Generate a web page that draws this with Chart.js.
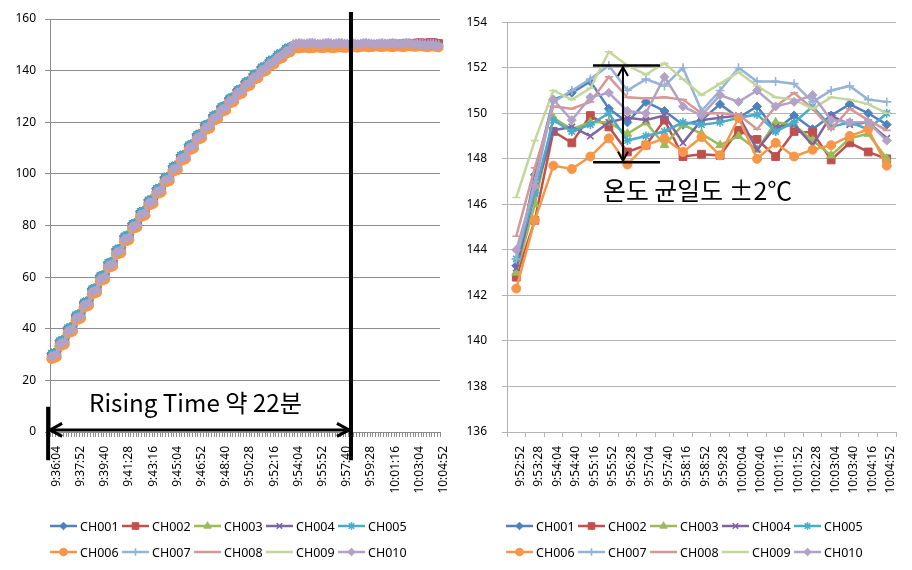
<!DOCTYPE html>
<html>
<head>
<meta charset="utf-8">
<script src="https://cdn.jsdelivr.net/npm/chart.js@4.4.1/dist/chart.umd.min.js"></script>
<style>
html, body { margin: 0; padding: 0; background: #fff; }
#wrap { position: relative; width: 912px; height: 570px; }
.box { position: absolute; top: 0; width: 456px; height: 570px; }
</style>
</head>
<body>
<div id="wrap">
  <div class="box" style="left:0"><canvas id="riseChart" width="456" height="570"></canvas></div>
  <div class="box" style="left:456px"><canvas id="zoomChart" width="456" height="570"></canvas></div>
</div>
<script>
const channels = ['CH001', 'CH002', 'CH003', 'CH004', 'CH005', 'CH006', 'CH007', 'CH008', 'CH009', 'CH010'];

// left chart: one reading every 12 s from 9:36:04 to 10:04:52
const riseStartSec = 9 * 3600 + 36 * 60 + 4;
const riseStepSec = 12;
const riseCount = 145;

// heating part (first 90 readings)
const riseHigh = [30.5, 30.8, 31.2, 35.4, 35.7, 36.1, 40.4, 40.7, 41.1, 45.4, 45.7, 46.1, 50.4, 50.7, 51.1, 55.5, 55.8, 56.2, 60.6, 60.9, 61.3, 65.7, 66.0, 66.4, 70.8, 71.1, 71.5, 75.9, 76.2, 76.6,
  80.8, 81.1, 81.5, 85.4, 85.7, 86.1, 89.9, 90.2, 90.6, 94.3, 94.6, 95.0, 98.7, 99.0, 99.4, 103.0, 103.3, 103.7, 107.2, 107.5, 107.9, 111.3, 111.6, 112.0, 115.3, 115.6, 116.0, 119.1, 119.4, 119.8,
  122.7, 123.0, 123.4, 126.1, 126.4, 126.8, 129.4, 129.7, 130.1, 132.6, 132.9, 133.3, 135.7, 136.0, 136.4, 138.6, 138.9, 139.3, 141.4, 141.7, 142.1, 144.0, 144.3, 144.7, 146.4, 146.7, 147.1, 148.7, 149.0, 149.4];
const riseMid = [29.3, 29.6, 30.0, 34.2, 34.5, 34.9, 39.2, 39.5, 39.9, 44.2, 44.5, 44.9, 49.2, 49.5, 49.9, 54.3, 54.6, 55.0, 59.4, 59.7, 60.1, 64.5, 64.8, 65.2, 69.6, 69.9, 70.3, 74.7, 75.0, 75.4,
  79.6, 79.9, 80.3, 84.2, 84.5, 84.9, 88.7, 89.0, 89.4, 93.1, 93.4, 93.8, 97.5, 97.8, 98.2, 101.8, 102.1, 102.5, 106.0, 106.3, 106.7, 110.1, 110.4, 110.8, 114.1, 114.4, 114.8, 117.9, 118.2, 118.6,
  121.5, 121.8, 122.2, 124.9, 125.2, 125.6, 128.2, 128.5, 128.9, 131.4, 131.7, 132.1, 134.5, 134.8, 135.2, 137.4, 137.7, 138.1, 140.2, 140.5, 140.9, 142.8, 143.1, 143.5, 145.2, 145.5, 145.9, 147.5, 147.8, 148.2];
const riseLow = [28.3, 28.6, 29.0, 33.2, 33.5, 33.9, 38.2, 38.5, 38.9, 43.2, 43.5, 43.9, 48.2, 48.5, 48.9, 53.3, 53.6, 54.0, 58.4, 58.7, 59.1, 63.5, 63.8, 64.2, 68.6, 68.9, 69.3, 73.7, 74.0, 74.4,
  78.6, 78.9, 79.3, 83.2, 83.5, 83.9, 87.7, 88.0, 88.4, 92.1, 92.4, 92.8, 96.5, 96.8, 97.2, 100.8, 101.1, 101.5, 105.0, 105.3, 105.7, 109.1, 109.4, 109.8, 113.1, 113.4, 113.8, 116.9, 117.2, 117.6,
  120.5, 120.8, 121.2, 123.9, 124.2, 124.6, 127.2, 127.5, 127.9, 130.4, 130.7, 131.1, 133.5, 133.8, 134.2, 136.4, 136.7, 137.1, 139.2, 139.5, 139.9, 141.8, 142.1, 142.5, 144.2, 144.5, 144.9, 146.5, 146.8, 147.2];

// holding part (last 55 readings), one per channel
const hold01 = [149.9, 150.1, 150.3, 150.2, 150.0, 149.8, 149.9, 150.2, 150.4, 150.3, 150.1, 149.9, 149.8, 150.0, 150.2, 150.3, 150.1, 149.9, 149.7, 149.8, 150.0, 150.2, 150.1, 150.0, 149.8, 149.9, 150.1, 150.3, 150.2, 150.0, 149.8, 149.7, 149.9, 150.1, 150.2, 150.0, 149.9, 149.8, 150.0, 150.2, 150.3, 150.1, 149.9, 149.8, 149.9, 150.1, 150.2, 150.0, 149.8, 149.7, 149.9, 150.0, 149.9, 149.7, 149.6];
const hold02 = [149.4, 149.6, 149.5, 149.3, 149.4, 149.6, 149.7, 149.5, 149.4, 149.3, 149.5, 149.7, 149.8, 149.6, 149.5, 149.4, 149.6, 149.8, 149.9, 149.7, 149.6, 149.5, 149.7, 149.9, 150.0, 149.8, 149.7, 149.9, 150.1, 150.0, 149.9, 150.1, 150.2, 150.0, 149.9, 150.1, 150.3, 150.4, 150.2, 150.1, 150.3, 150.5, 150.6, 150.4, 150.3, 150.5, 150.7, 150.8, 150.6, 150.5, 150.7, 150.9, 150.8, 150.6, 150.5];
const hold03 = [149.2, 149.4, 149.5, 149.3, 149.1, 149.2, 149.4, 149.3, 149.1, 149.0, 149.2, 149.4, 149.5, 149.3, 149.2, 149.0, 149.1, 149.3, 149.4, 149.2, 149.1, 149.3, 149.5, 149.4, 149.2, 149.0, 149.2, 149.4, 149.3, 149.1, 149.2, 149.4, 149.5, 149.3, 149.2, 149.1, 149.3, 149.4, 149.2, 149.0, 149.1, 149.3, 149.5, 149.4, 149.2, 149.3, 149.4, 149.2, 149.1, 149.2, 149.4, 149.3, 149.1, 149.0, 149.1];
const hold04 = [149.5, 149.7, 149.8, 149.6, 149.4, 149.5, 149.7, 149.9, 149.8, 149.6, 149.4, 149.5, 149.7, 149.8, 149.6, 149.5, 149.7, 149.9, 149.7, 149.5, 149.4, 149.6, 149.8, 149.7, 149.5, 149.6, 149.8, 149.9, 149.7, 149.6, 149.4, 149.5, 149.7, 149.8, 149.6, 149.5, 149.7, 149.8, 149.6, 149.4, 149.5, 149.7, 149.9, 149.8, 149.6, 149.5, 149.6, 149.8, 149.7, 149.5, 149.4, 149.6, 149.7, 149.5, 149.3];
const hold05 = [149.7, 149.9, 150.0, 149.8, 149.6, 149.7, 149.9, 150.1, 150.0, 149.8, 149.6, 149.7, 149.9, 150.0, 149.8, 149.7, 149.9, 150.1, 149.9, 149.7, 149.6, 149.8, 150.0, 149.9, 149.7, 149.8, 150.0, 150.1, 149.9, 149.8, 149.6, 149.7, 149.9, 150.0, 149.8, 149.7, 149.9, 150.0, 149.8, 149.6, 149.7, 149.9, 150.1, 150.0, 149.8, 149.7, 149.8, 150.0, 149.9, 149.7, 149.8, 150.0, 150.1, 149.9, 149.8];
const hold06 = [148.7, 148.8, 148.6, 148.7, 148.9, 148.8, 148.6, 148.7, 148.9, 149.0, 148.8, 148.7, 148.9, 149.0, 148.8, 148.7, 148.9, 149.1, 149.0, 148.8, 148.9, 149.1, 149.2, 149.0, 148.9, 149.1, 149.3, 149.2, 149.0, 149.1, 149.3, 149.4, 149.2, 149.1, 149.3, 149.4, 149.2, 149.1, 149.3, 149.4, 149.2, 149.1, 149.3, 149.5, 149.4, 149.2, 149.3, 149.5, 149.4, 149.2, 149.1, 149.3, 149.4, 149.2, 149.0];
const hold07 = [150.4, 150.6, 150.8, 150.7, 150.5, 150.6, 150.8, 150.9, 150.7, 150.5, 150.4, 150.6, 150.8, 150.9, 150.7, 150.5, 150.7, 150.9, 150.8, 150.6, 150.5, 150.7, 150.8, 150.6, 150.4, 150.6, 150.8, 150.9, 150.7, 150.6, 150.4, 150.5, 150.7, 150.8, 150.6, 150.5, 150.7, 150.8, 150.6, 150.4, 150.5, 150.7, 150.9, 150.8, 150.6, 150.4, 150.6, 150.7, 150.5, 150.3, 150.4, 150.6, 150.5, 150.3, 150.2];
const hold08 = [150.1, 150.3, 150.4, 150.2, 150.0, 150.1, 150.3, 150.5, 150.4, 150.2, 150.0, 150.1, 150.3, 150.4, 150.2, 150.1, 150.3, 150.5, 150.3, 150.1, 150.0, 150.2, 150.4, 150.3, 150.1, 150.2, 150.4, 150.5, 150.3, 150.2, 150.0, 150.1, 150.3, 150.4, 150.2, 150.1, 150.3, 150.4, 150.2, 150.0, 150.1, 150.3, 150.5, 150.4, 150.2, 150.1, 150.2, 150.4, 150.3, 150.1, 150.0, 150.2, 150.3, 150.1, 149.9];
const hold09 = [150.3, 150.5, 150.7, 150.6, 150.4, 150.5, 150.7, 150.8, 150.6, 150.4, 150.3, 150.5, 150.7, 150.8, 150.6, 150.4, 150.6, 150.8, 150.7, 150.5, 150.4, 150.6, 150.7, 150.5, 150.3, 150.5, 150.7, 150.8, 150.6, 150.5, 150.3, 150.4, 150.6, 150.7, 150.5, 150.4, 150.6, 150.7, 150.5, 150.3, 150.4, 150.6, 150.8, 150.7, 150.5, 150.3, 150.5, 150.6, 150.4, 150.2, 150.3, 150.4, 150.2, 150.0, 149.9];
const hold10 = [150.2, 150.4, 150.6, 150.5, 150.3, 150.4, 150.6, 150.7, 150.5, 150.3, 150.2, 150.4, 150.6, 150.7, 150.5, 150.3, 150.5, 150.7, 150.6, 150.4, 150.3, 150.5, 150.6, 150.4, 150.2, 150.4, 150.6, 150.7, 150.5, 150.4, 150.2, 150.3, 150.5, 150.6, 150.4, 150.3, 150.5, 150.6, 150.4, 150.2, 150.3, 150.5, 150.7, 150.6, 150.4, 150.2, 150.3, 150.1, 149.9, 149.8, 149.9, 150.0, 149.8, 149.7, 149.6];

const riseSeries = [
  [...riseHigh, ...hold01], [...riseMid, ...hold02], [...riseMid, ...hold03], [...riseMid, ...hold04], [...riseHigh, ...hold05],
  [...riseLow, ...hold06], [...riseMid, ...hold07], [...riseMid, ...hold08], [...riseMid, ...hold09], [...riseMid, ...hold10]
];

// right chart: one reading every 36 s from 9:52:52
const zoomTimes = ['9:52:52', '9:53:28', '9:54:04', '9:54:40', '9:55:16', '9:55:52', '9:56:28', '9:57:04', '9:57:40', '9:58:16', '9:58:52',
  '9:59:28', '10:00:04', '10:00:40', '10:01:16', '10:01:52', '10:02:28', '10:03:04', '10:03:40', '10:04:16', '10:04:52'];
const zoom01 = [143.3, 147.3, 150.6, 150.9, 151.4, 150.2, 149.6, 150.5, 150.1, 149.5, 149.7, 150.4, 149.8, 150.3, 149.25, 149.9, 149.3, 149.9, 150.4, 150.0, 149.5];
const zoom02 = [142.8, 145.3, 149.2, 148.7, 149.9, 149.4, 148.3, 148.6, 149.7, 148.1, 148.2, 148.15, 149.25, 148.85, 148.1, 149.2, 149.15, 147.95, 148.7, 148.3, 148.0];
const zoom03 = [143.0, 146.0, 149.8, 149.3, 149.6, 149.6, 149.1, 149.6, 148.6, 149.5, 149.1, 148.6, 149.0, 148.4, 149.6, 149.5, 148.8, 148.15, 148.9, 149.1, 148.0];
const zoom04 = [143.2, 146.5, 149.25, 149.4, 149.0, 149.6, 149.8, 149.7, 149.9, 148.7, 149.7, 149.8, 149.9, 148.4, 149.4, 149.5, 148.6, 149.9, 149.5, 149.6, 148.9];
const zoom05 = [143.6, 146.5, 149.7, 149.2, 149.5, 150.0, 148.8, 149.0, 149.2, 149.6, 149.5, 149.6, 149.8, 149.95, 149.2, 149.6, 150.3, 149.4, 149.6, 149.3, 150.0];
const zoom06 = [142.3, 145.3, 147.7, 147.55, 148.1, 148.9, 147.75, 148.6, 148.9, 148.3, 148.95, 148.15, 149.8, 148.0, 148.7, 148.1, 148.4, 148.6, 149.0, 149.3, 147.7];
const zoom07 = [143.6, 147.0, 150.5, 151.0, 151.5, 152.1, 151.0, 151.5, 151.2, 152.0, 150.1, 151.0, 152.0, 151.4, 151.4, 151.3, 150.5, 151.0, 151.2, 150.6, 150.5];
const zoom08 = [144.6, 147.6, 150.3, 150.2, 150.5, 151.6, 150.7, 150.65, 150.7, 150.6, 150.0, 150.0, 149.95, 149.3, 150.3, 150.9, 150.2, 149.3, 150.2, 149.7, 149.25];
const zoom09 = [146.3, 148.8, 151.0, 150.6, 151.1, 152.7, 152.1, 151.7, 152.2, 151.5, 150.8, 151.3, 151.8, 151.2, 150.7, 150.6, 150.2, 150.7, 150.6, 150.4, 150.0];
const zoom10 = [144.0, 146.8, 150.6, 149.7, 150.7, 150.9, 150.1, 150.0, 151.6, 150.3, 149.9, 150.8, 150.5, 151.0, 150.3, 150.5, 150.8, 149.7, 149.6, 149.6, 148.8];
const zoomSeries = [zoom01, zoom02, zoom03, zoom04, zoom05, zoom06, zoom07, zoom08, zoom09, zoom10];

// look
const lineColors = ['#4F81BD', '#C0504D', '#9BBB59', '#8064A2', '#4BACC6', '#F79646', '#95B3D7', '#D99694', '#C3D69B', '#B2A2C7'];
const markerStyles = ['rectRot', 'rect', 'triangle', 'crossRot', 'star', 'circle', 'cross', 'line', 'line', 'rectRot'];
const markerRadii = [4.5, 5.5, 5, 4.5, 4.5, 4.5, 4.5, 4, 4, 4.5];
const strokeOnly = ['crossRot', 'star', 'cross', 'line'];

const riseNote = { endIndex: 111.4, startIndex: -1.2, top: 162.7, bottom: -10.9, stubTop: 9.8, arrowAt: 0.8, textIndex: 53.6, textBase: 7.9, text: 'Rising Time 약 22분', textWidth: 213 };
const spreadNote = { hi: 152.1, lo: 147.85, fromIndex: 4.14, toIndex: 7.76, arrowIndex: 5.76, textIndex: 9.79, textBase: 146.2, text: '온도 균일도 ±2℃', textWidth: 189 };

Chart.defaults.font.family = '"Noto Sans", "Noto Sans CJK KR", sans-serif';
Chart.defaults.color = '#000';

function clock(sec) {
  const h = Math.floor(sec / 3600), m = Math.floor(sec % 3600 / 60), s = sec % 60;
  return h + ':' + String(m).padStart(2, '0') + ':' + String(s).padStart(2, '0');
}
const riseTimes = [];
for (let i = 0; i < riseCount; i++) riseTimes.push(clock(riseStartSec + i * riseStepSec));

function buildSets(series) {
  return channels.map((name, i) => ({
    label: name,
    data: series[i],
    borderColor: lineColors[i],
    backgroundColor: lineColors[i],
    borderWidth: 2.5,
    tension: 0,
    pointStyle: markerStyles[i],
    pointRadius: markerRadii[i],
    pointBorderWidth: strokeOnly.includes(markerStyles[i]) ? 1.6 : 1,
    pointBackgroundColor: lineColors[i],
    pointBorderColor: lineColors[i],
    order: channels.length - 1 - i
  }));
}

function makeOptions(o) {
  return {
    responsive: false,
    animation: false,
    devicePixelRatio: 1,
    events: [],
    layout: { padding: { left: 0, right: 16, top: 19, bottom: 68 } },
    plugins: { legend: { display: false }, tooltip: { enabled: false } },
    scales: {
      x: {
        type: 'category',
        offset: true,
        grid: { display: true, drawOnChartArea: false, offset: true, tickLength: 5, color: o.grid },
        border: { color: o.grid },
        ticks: {
          autoSkip: false, maxRotation: 90, minRotation: 90, padding: 9, labelOffset: o.labelOffset,
          font: { size: 12 }, color: '#000',
          callback: function (v, i) { return i % o.every === 0 ? this.getLabelForValue(v) : ''; }
        },
        // keep the plot edges fixed by the layout padding only
        afterFit: s => { s.height = 70; s.paddingLeft = 0; s.paddingRight = 0; }
      },
      y: {
        min: o.min, max: o.max,
        grid: { color: o.grid, tickLength: 5 },
        border: { color: o.grid },
        ticks: { stepSize: o.step, padding: o.yPad, font: { size: 12 }, color: '#000' },
        afterFit: s => { s.width = o.yWidth; }
      }
    }
  };
}

// Excel-like legend: two rows of five, short line with marker
const legendPlugin = {
  id: 'rowLegend',
  afterDraw(chart) {
    const ctx = chart.ctx;
    ctx.save();
    chart.data.datasets.forEach((ds, i) => {
      const x0 = 50 + (i % 5) * 72;
      const y = [526, 552][Math.floor(i / 5)];
      ctx.strokeStyle = ds.borderColor;
      ctx.fillStyle = ds.borderColor;
      ctx.lineWidth = 2.5;
      ctx.beginPath();
      ctx.moveTo(x0, y);
      ctx.lineTo(x0 + 27, y);
      ctx.stroke();
      ctx.lineWidth = ds.pointBorderWidth;
      Chart.helpers.drawPoint(ctx, { pointStyle: ds.pointStyle, radius: ds.pointRadius * 0.85, rotation: 0, borderWidth: ds.pointBorderWidth }, x0 + 13.5, y);
      ctx.fillStyle = '#000';
      ctx.font = '12.5px "Noto Sans", sans-serif';
      ctx.textAlign = 'left';
      ctx.textBaseline = 'middle';
      ctx.fillText(ds.label, x0 + 30, y + 1);
    });
    ctx.restore();
  }
};

function chevron(ctx, tx, ty, dx, dy, len, half) {
  const bx = tx - dx * len, by = ty - dy * len;
  ctx.beginPath();
  ctx.moveTo(bx - dy * half, by + dx * half);
  ctx.lineTo(tx, ty);
  ctx.lineTo(bx + dy * half, by - dx * half);
  ctx.stroke();
}

function fitText(ctx, text, width) {
  const fam = '"Noto Sans CJK KR", sans-serif';
  ctx.font = '20px ' + fam;
  const size = 20 * width / ctx.measureText(text).width;
  ctx.font = size.toFixed(1) + 'px ' + fam;
}

const riseNotes = {
  id: 'riseNotes',
  afterDraw(chart) {
    const ctx = chart.ctx, xs = chart.scales.x, ys = chart.scales.y, n = riseNote;
    const xEnd = xs.getPixelForValue(n.endIndex), xStart = xs.getPixelForValue(n.startIndex);
    const yArrow = ys.getPixelForValue(n.arrowAt);
    ctx.save();
    ctx.strokeStyle = '#000';
    ctx.lineCap = 'butt';
    ctx.lineWidth = 4;
    ctx.beginPath();
    ctx.moveTo(xEnd, ys.getPixelForValue(n.top));
    ctx.lineTo(xEnd, ys.getPixelForValue(n.bottom));
    ctx.moveTo(xStart, ys.getPixelForValue(n.stubTop));
    ctx.lineTo(xStart, ys.getPixelForValue(n.bottom));
    ctx.stroke();
    ctx.lineWidth = 3;
    ctx.beginPath();
    ctx.moveTo(xStart + 1, yArrow);
    ctx.lineTo(xEnd - 1, yArrow);
    ctx.stroke();
    chevron(ctx, xStart + 2, yArrow, -1, 0, 12, 6.5);
    chevron(ctx, xEnd - 2, yArrow, 1, 0, 12, 6.5);
    fitText(ctx, n.text, n.textWidth);
    ctx.fillStyle = '#000';
    ctx.textAlign = 'center';
    ctx.textBaseline = 'alphabetic';
    ctx.fillText(n.text, xs.getPixelForValue(n.textIndex), ys.getPixelForValue(n.textBase));
    ctx.restore();
  }
};

const spreadNotes = {
  id: 'spreadNotes',
  afterDraw(chart) {
    const ctx = chart.ctx, xs = chart.scales.x, ys = chart.scales.y, n = spreadNote;
    const x1 = xs.getPixelForValue(n.fromIndex), x2 = xs.getPixelForValue(n.toIndex), xa = xs.getPixelForValue(n.arrowIndex);
    const yh = ys.getPixelForValue(n.hi), yl = ys.getPixelForValue(n.lo);
    ctx.save();
    ctx.strokeStyle = '#000';
    ctx.lineWidth = 2.5;
    ctx.beginPath();
    ctx.moveTo(x1, yh); ctx.lineTo(x2, yh);
    ctx.moveTo(x1, yl); ctx.lineTo(x2, yl);
    ctx.stroke();
    ctx.lineWidth = 2;
    ctx.beginPath();
    ctx.moveTo(xa, yh + 1); ctx.lineTo(xa, yl - 1);
    ctx.stroke();
    chevron(ctx, xa, yh + 1.5, 0, -1, 9, 5);
    chevron(ctx, xa, yl - 1.5, 0, 1, 9, 5);
    fitText(ctx, n.text, n.textWidth);
    ctx.fillStyle = '#000';
    ctx.textAlign = 'center';
    ctx.textBaseline = 'alphabetic';
    ctx.fillText(n.text, xs.getPixelForValue(n.textIndex), ys.getPixelForValue(n.textBase));
    ctx.restore();
  }
};

new Chart(document.getElementById('riseChart'), {
  type: 'line',
  data: { labels: riseTimes, datasets: buildSets(riseSeries) },
  options: makeOptions({ min: 0, max: 160, step: 20, grid: '#8c8c8c', every: 9, labelOffset: 5, yPad: 9, yWidth: 50 }),
  plugins: [legendPlugin, riseNotes]
});

new Chart(document.getElementById('zoomChart'), {
  type: 'line',
  data: { labels: zoomTimes, datasets: buildSets(zoomSeries) },
  options: makeOptions({ min: 136, max: 154, step: 2, grid: '#b4b4b4', every: 1, labelOffset: 4, yPad: 15, yWidth: 51 }),
  plugins: [legendPlugin, spreadNotes]
});
</script>
</body>
</html>
